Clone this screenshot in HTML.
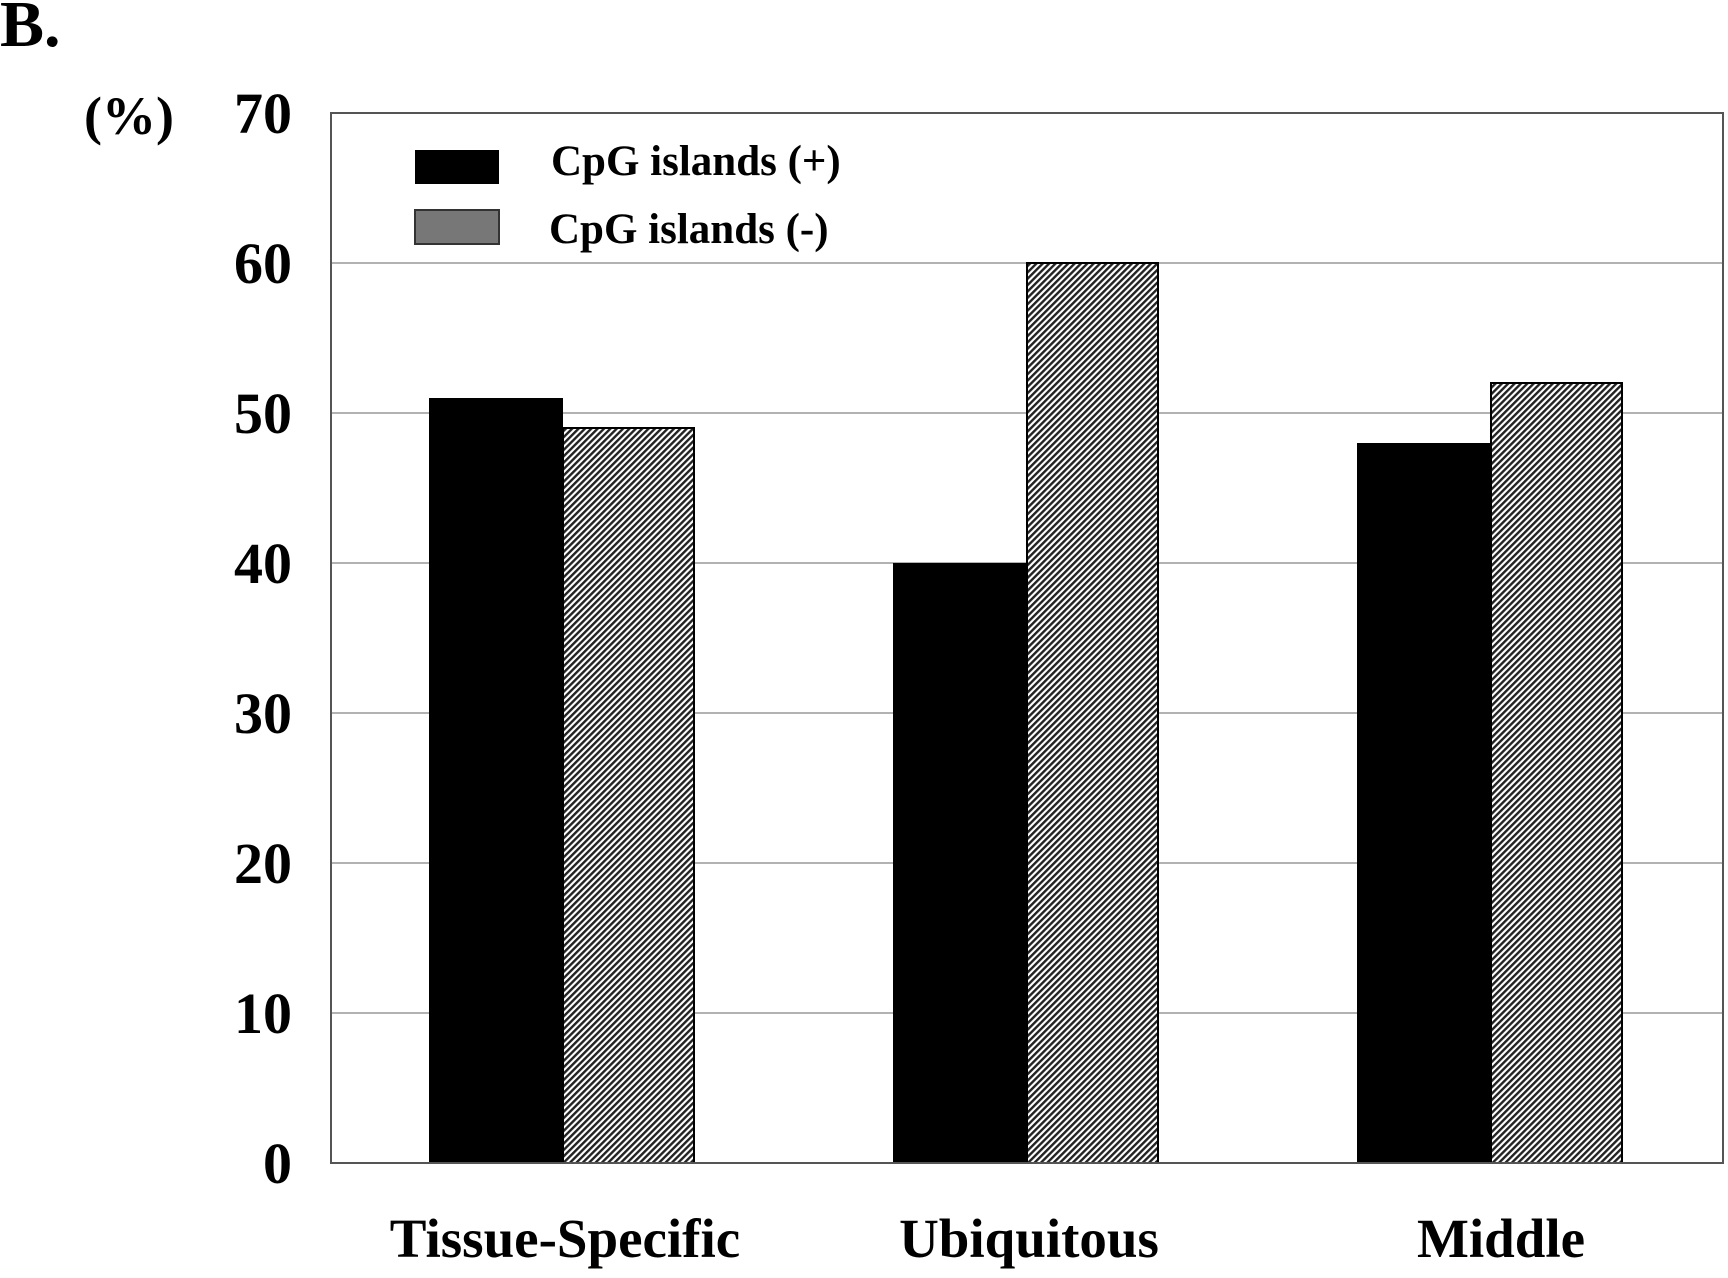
<!DOCTYPE html>
<html><head><meta charset="utf-8"><style>
html,body{margin:0;padding:0;background:#fff;}
svg text{font-family:"Liberation Serif",serif;font-weight:bold;fill:#000;}
</style></head><body>
<svg id="chart" width="1728" height="1273" viewBox="0 0 1728 1273" xmlns="http://www.w3.org/2000/svg">
<defs>
<pattern id="hatch" patternUnits="userSpaceOnUse" width="4.5" height="4.5" patternTransform="rotate(45)">
<rect width="4.5" height="4.5" fill="#fff"/>
<rect width="2.4" height="4.5" fill="#222"/>
</pattern>
</defs>
<text x="0" y="46" font-size="66">B.</text>
<text x="84" y="134" font-size="54">(%)</text>
<g id="grid"></g>
<g id="bars"></g>
<rect x="331" y="113" width="1392" height="1050" fill="none" stroke="#555" stroke-width="2"/>
<g id="ticks"></g>
<g id="cats"></g>
<g>
<rect x="415" y="150" width="84" height="34" fill="#000"/>
<text x="551" y="175" font-size="43">CpG islands (+)</text>
<rect x="415" y="210" width="84" height="34" fill="#777" stroke="#333" stroke-width="2"/>
<text x="549" y="243" font-size="43">CpG islands (-)</text>
</g>
</svg>
<script>
const categories = ["Tissue-Specific", "Ubiquitous", "Middle"];
const cpgPlus = [51, 40, 48];
const cpgMinus = [49, 60, 52];
const yTicks = [0, 10, 20, 30, 40, 50, 60, 70];

const NS = "http://www.w3.org/2000/svg";
const X0 = 331, X1 = 1723, Y0 = 1163, Y1 = 113, YMAX = 70;
const y = v => Y0 - (v / YMAX) * (Y0 - Y1);
const band = (X1 - X0) / categories.length;
const xc = i => X0 + band * (i + 0.5);
const BW = 134;
const labelShift = [2, 2, 10];
function mk(tag, attrs, parent) {
  const e = document.createElementNS(NS, tag);
  for (const k in attrs) e.setAttribute(k, attrs[k]);
  parent.appendChild(e);
  return e;
}
const grid = document.getElementById("grid"), ticks = document.getElementById("ticks");
yTicks.forEach(t => {
  if (t > 0 && t < YMAX) {
    const l = mk("line", {x1: X0, x2: X1, y1: y(t), y2: y(t), stroke: "#999", "stroke-width": 1.5}, grid);
    
    
  }
  const tx = mk("text", {x: 292, y: y(t) + 20, "font-size": 58, "text-anchor": "end"}, ticks);
  tx.textContent = t;
  
  
});
const bars = document.getElementById("bars"), cats = document.getElementById("cats");
categories.forEach((c, i) => {
  const b1 = mk("rect", {x: xc(i) - BW, y: y(cpgPlus[i]), width: BW, height: Y0 - y(cpgPlus[i]), fill: "#000"}, bars);
  
  
  const b2 = mk("rect", {x: xc(i), y: y(cpgMinus[i]), width: BW - 3, height: Y0 - y(cpgMinus[i]), fill: "url(#hatch)", stroke: "#000", "stroke-width": 2}, bars);
  
  
  const t = mk("text", {x: xc(i) + labelShift[i], y: 1257, "font-size": 55, "text-anchor": "middle"}, cats);
  t.textContent = c;
  
  
});
</script>
</body></html>
